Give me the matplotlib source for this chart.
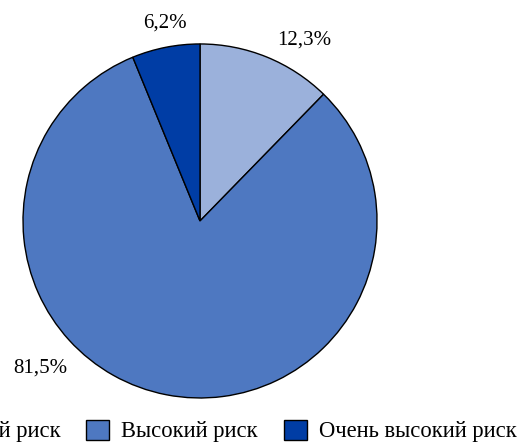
import matplotlib.pyplot as plt

# data
categories = ['Умеренный риск', 'Высокий риск', 'Очень высокий риск']
values = [12.3, 81.5, 6.2]
labels = ['12,3%', '81,5%', '6,2%']
colors = ['#9BB1DB', '#4E78C1', '#003DA5']

plt.rcParams['font.family'] = ['Liberation Serif', 'DejaVu Serif']

fig = plt.figure(figsize=(5.21, 4.43), dpi=100)
ax = fig.add_axes([-0.0238, 0.0217, 0.8154, 0.959])

wedges, _ = ax.pie(values, colors=colors, startangle=90, counterclock=False,
                   wedgeprops=dict(edgecolor='black', linewidth=1.0))
ax.set_xlim(-1.2, 1.2)
ax.set_ylim(-1.2, 1.2)
ax.set_aspect('equal')
ax.axis('off')

# label positions (outside the pie)
label_pos = [(0.59, 1.02), (-0.90, -0.83), (-0.20, 1.12)]
for (x, y), txt in zip(label_pos, labels):
    ax.text(x, y, txt, ha='center', va='center', fontsize=15, clip_on=False)

# legend runs off the left edge, as in the original
leg = fig.legend(wedges, categories, loc='center right', bbox_to_anchor=(0.992, 0.027),
                 ncol=3, frameon=False, fontsize=16.3, handlelength=1.0, handleheight=1.0,
                 handletextpad=0.55, columnspacing=1.15, borderaxespad=0, borderpad=0)

fig.savefig('out.png', dpi=100)
